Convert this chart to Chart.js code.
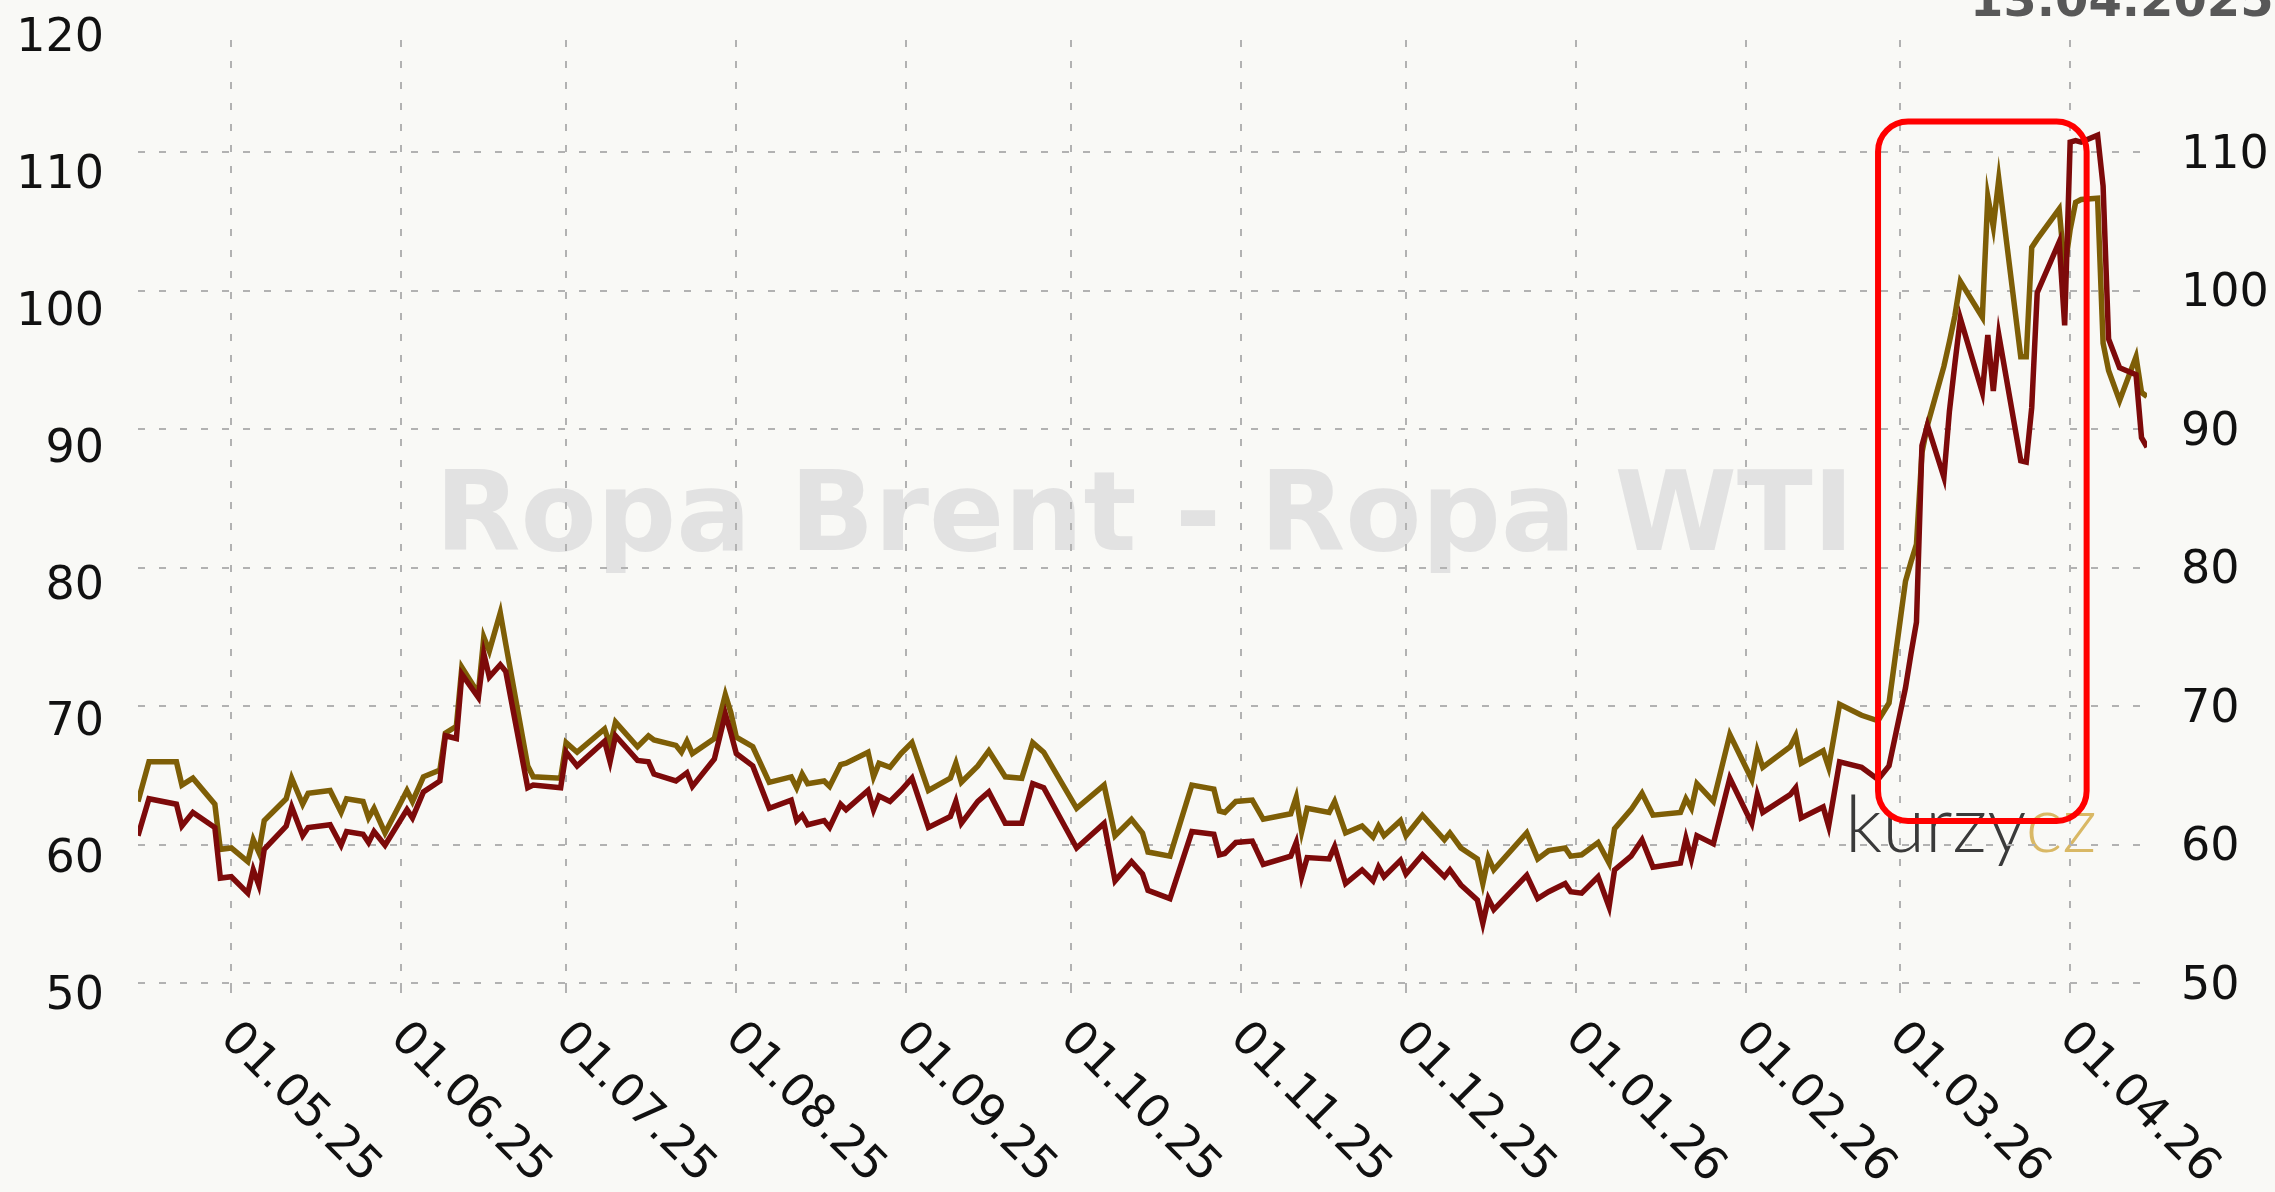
<!DOCTYPE html>
<html>
<head>
<meta charset="utf-8">
<title>Ropa Brent - Ropa WTI</title>
<script src="https://cdn.jsdelivr.net/npm/chart.js@4.4.1/dist/chart.umd.min.js"></script>
<style>
  html, body { margin: 0; padding: 0; background: #f9f9f6; }
  #wrap { position: relative; width: 2275px; height: 1192px; overflow: hidden; background: #f9f9f6; }
  #chart { position: absolute; left: 0; top: 0; }
  .txt { position: absolute; white-space: nowrap; margin: 0; }
  #watermark { left: 435px; top: 456px; font: bold 111px "DejaVu Sans", sans-serif; line-height: 111px; color: #e2e2e2; }
  #logo { left: 1845px; top: 783px; font: 300 78px Lato, sans-serif; line-height: 78px; color: #3a3a3a; letter-spacing: 0px; }
  #logo span { color: #d9b865; }
  #stamp { left: 1970px; top: -25px; font: bold 48px "DejaVu Sans", sans-serif; line-height: 48px; color: #585858; }
</style>
</head>
<body>
<div id="wrap">
  <div class="txt" id="watermark">Ropa Brent - Ropa WTI</div>
  <div class="txt" id="logo">kurzy<span>cz</span></div>
  <canvas id="chart" width="2275" height="1192"></canvas>
  <div class="txt" id="stamp">13.04.2025</div>
</div>
<script>
// data (USD / barel)
const dates = [
  "2025-04-14","2025-04-16","2025-04-21","2025-04-22","2025-04-24","2025-04-28","2025-04-29","2025-05-01","2025-05-04","2025-05-05",
  "2025-05-06","2025-05-07","2025-05-11","2025-05-12","2025-05-14","2025-05-15","2025-05-19","2025-05-21","2025-05-22","2025-05-25",
  "2025-05-26","2025-05-27","2025-05-29","2025-06-02","2025-06-03","2025-06-05","2025-06-08","2025-06-09","2025-06-11","2025-06-12",
  "2025-06-15","2025-06-16","2025-06-17","2025-06-19","2025-06-20","2025-06-24","2025-06-25","2025-06-30","2025-07-01","2025-07-03",
  "2025-07-08","2025-07-09","2025-07-10","2025-07-14","2025-07-16","2025-07-17","2025-07-21","2025-07-22","2025-07-23","2025-07-24",
  "2025-07-28","2025-07-30","2025-07-31","2025-08-01","2025-08-04","2025-08-07","2025-08-11","2025-08-12","2025-08-13","2025-08-14",
  "2025-08-17","2025-08-18","2025-08-20","2025-08-21","2025-08-25","2025-08-26","2025-08-27","2025-08-29","2025-08-31","2025-09-02",
  "2025-09-05","2025-09-09","2025-09-10","2025-09-11","2025-09-14","2025-09-16","2025-09-19","2025-09-22","2025-09-24","2025-09-26",
  "2025-10-02","2025-10-07","2025-10-09","2025-10-12","2025-10-14","2025-10-15","2025-10-19","2025-10-23","2025-10-27","2025-10-28",
  "2025-10-29","2025-10-31","2025-11-03","2025-11-05","2025-11-10","2025-11-11","2025-11-12","2025-11-13","2025-11-17","2025-11-18",
  "2025-11-20","2025-11-23","2025-11-25","2025-11-26","2025-11-27","2025-11-30","2025-12-01","2025-12-04","2025-12-08","2025-12-09",
  "2025-12-11","2025-12-14","2025-12-15","2025-12-16","2025-12-17","2025-12-23","2025-12-25","2025-12-27","2025-12-30","2025-12-31",
  "2026-01-02","2026-01-05","2026-01-07","2026-01-08","2026-01-11","2026-01-13","2026-01-15","2026-01-20","2026-01-21","2026-01-22",
  "2026-01-23","2026-01-26","2026-01-29","2026-02-02","2026-02-03","2026-02-04","2026-02-09","2026-02-10","2026-02-11","2026-02-15",
  "2026-02-16","2026-02-18","2026-02-22","2026-02-25","2026-02-27","2026-03-02","2026-03-03","2026-03-04","2026-03-05","2026-03-06",
  "2026-03-09","2026-03-10","2026-03-11","2026-03-12","2026-03-16","2026-03-17","2026-03-18","2026-03-19","2026-03-23","2026-03-24",
  "2026-03-25","2026-03-26","2026-03-30","2026-03-31","2026-04-01","2026-04-02","2026-04-03","2026-04-06","2026-04-07","2026-04-08",
  "2026-04-10","2026-04-13","2026-04-14","2026-04-15"
];
const brent = [
  64.0,66.9,66.9,65.2,65.7,63.8,60.5,60.6,59.6,61.2,
  60.3,62.6,64.2,65.7,63.8,64.6,64.8,63.2,64.2,64.0,
  62.8,63.5,61.7,64.8,64.0,65.8,66.3,69.0,69.5,73.8,
  71.9,76.0,75.0,77.8,75.5,66.6,65.8,65.7,68.3,67.6,
  69.3,68.1,69.8,68.0,68.8,68.5,68.1,67.6,68.4,67.5,
  68.6,71.8,70.5,68.7,68.0,65.4,65.8,65.0,66.0,65.3,
  65.5,65.1,66.7,66.8,67.6,65.8,66.8,66.5,67.5,68.3,
  64.8,65.7,66.8,65.4,66.6,67.7,65.8,65.7,68.3,67.6,
  63.5,65.2,61.5,62.7,61.7,60.3,60.0,65.2,64.9,63.3,
  63.2,64.0,64.1,62.7,63.1,64.3,61.8,63.5,63.2,64.0,
  61.7,62.2,61.4,62.2,61.5,62.6,61.5,63.0,61.2,61.7,
  60.6,59.8,58.0,59.9,59.0,61.7,59.8,60.4,60.6,60.0,
  60.1,61.0,59.5,62.0,63.4,64.6,63.0,63.2,64.2,63.5,
  65.3,64.0,68.9,65.6,67.7,66.5,68.0,68.8,66.8,67.7,
  66.5,71.1,70.3,69.9,71.2,80.1,81.5,82.8,89.5,91.5,
  95.8,97.6,99.5,102.0,99.4,108.2,106.0,109.5,96.5,96.5,
  104.5,105.1,107.3,102.9,105.8,107.8,108.0,108.1,97.5,95.5,
  93.3,96.5,93.9,93.6
];
const wti = [
  61.5,64.2,63.8,62.2,63.2,62.1,58.4,58.5,57.3,59.0,
  57.9,60.5,62.2,63.6,61.5,62.1,62.3,60.8,61.8,61.6,
  61.0,61.8,60.8,63.4,62.8,64.7,65.5,68.8,68.6,73.3,
  71.6,74.8,73.1,74.0,73.5,65.0,65.2,65.0,67.6,66.6,
  68.4,66.9,68.8,67.0,66.9,66.0,65.5,65.8,66.1,65.1,
  67.1,70.4,69.0,67.5,66.6,63.5,64.1,62.6,63.0,62.3,
  62.6,62.1,63.8,63.4,64.8,63.4,64.4,64.0,64.8,65.7,
  62.1,62.9,64.0,62.4,64.0,64.7,62.4,62.4,65.3,65.0,
  60.6,62.4,58.2,59.6,58.7,57.5,56.9,61.8,61.6,60.1,
  60.2,61.0,61.1,59.4,60.0,61.0,58.5,59.9,59.8,60.7,
  58.0,59.0,58.2,59.2,58.5,59.7,58.7,60.1,58.5,59.0,
  57.9,56.8,55.1,56.9,56.1,58.6,56.9,57.4,58.0,57.4,
  57.3,58.5,56.3,59.0,60.0,61.2,59.2,59.5,61.3,59.8,
  61.5,60.9,65.7,62.4,64.5,63.2,64.5,65.0,62.8,63.6,
  62.2,66.9,66.5,65.6,66.6,72.3,74.8,77.1,90.0,91.5,
  87.7,92.5,96.0,99.3,93.9,98.1,94.0,98.1,88.9,88.8,
  92.8,101.2,104.9,98.8,112.2,112.3,112.2,112.7,109.0,97.8,
  95.7,95.2,90.6,89.9
];
const monthTicks = ["2025-05-01","2025-06-01","2025-07-01","2025-08-01","2025-09-01","2025-10-01",
                    "2025-11-01","2025-12-01","2026-01-01","2026-02-01","2026-03-01","2026-04-01"];
const leftTicks = [50, 60, 70, 80, 90, 100, 110, 120];
const rightTicks = [50, 60, 70, 80, 90, 100, 110];
// zvýrazněné období (červený rámeček)
const boxDates = ["2026-02-25", "2026-04-04"];
const boxValues = [61.7, 112.2];

const dayNum = s => Date.UTC(+s.slice(0, 4), +s.slice(5, 7) - 1, +s.slice(8, 10)) / 864e5;
const fmtDay = d => {
  const t = new Date(d * 864e5);
  const p = n => String(n).padStart(2, "0");
  return p(t.getUTCDate()) + "." + p(t.getUTCMonth() + 1) + "." + String(t.getUTCFullYear()).slice(2);
};
const toPoints = vals => vals.map((v, i) => ({ x: dayNum(dates[i]), y: v }));

const FONT = '"DejaVu Sans", Verdana, sans-serif';
Chart.defaults.font.family = FONT;
Chart.defaults.font.size = 46;
Chart.defaults.color = "#111";

const gridStyle = { color: "#b2b2b2", lineWidth: 2 };

// y osy bez extra okraje nahore/dole
const noPad = ax => { ax.paddingTop = 0; ax.paddingBottom = 0; };

// popisky osy x šikmo dolů doprava
const xLabels = {
  id: "xLabels",
  afterDraw(chart) {
    const sx = chart.scales.x;
    const ctx = chart.ctx;
    ctx.save();
    ctx.font = "46px " + FONT;
    ctx.fillStyle = "#111";
    ctx.textAlign = "left";
    ctx.textBaseline = "middle";
    sx.ticks.forEach(t => {
      const px = sx.getPixelForValue(t.value);
      ctx.save();
      ctx.translate(px - 4, sx.top + 48);
      ctx.rotate(Math.PI / 4);
      ctx.fillText(fmtDay(t.value), 0, 0);
      ctx.restore();
    });
    ctx.restore();
  }
};

const highlight = {
  id: "highlight",
  afterDatasetsDraw(chart) {
    const { x, y } = chart.scales;
    const l = x.getPixelForValue(dayNum(boxDates[0]));
    const r = x.getPixelForValue(dayNum(boxDates[1]));
    const t = y.getPixelForValue(boxValues[1]);
    const b = y.getPixelForValue(boxValues[0]);
    const ctx = chart.ctx;
    ctx.save();
    ctx.strokeStyle = "#ff0000";
    ctx.lineWidth = 6;
    ctx.beginPath();
    ctx.roundRect(l, t, r - l, b - t, 30);
    ctx.stroke();
    ctx.restore();
  }
};

new Chart(document.getElementById("chart"), {
  type: "line",
  data: {
    datasets: [
      { label: "Ropa WTI", data: toPoints(wti), borderColor: "#7d0a0a", borderWidth: 5.5, pointRadius: 0, tension: 0 },
      { label: "Ropa Brent", data: toPoints(brent), borderColor: "#7e5e06", borderWidth: 5.5, pointRadius: 0, tension: 0 }
    ]
  },
  options: {
    responsive: false,
    devicePixelRatio: 1,
    animation: false,
    layout: { padding: { top: 40, left: 0, right: 0, bottom: 0 } },
    plugins: { legend: { display: false }, tooltip: { enabled: false } },
    scales: {
      x: {
        type: "linear",
        min: dayNum(dates[0]),
        max: dayNum(dates[dates.length - 1]),
        afterBuildTicks: ax => { ax.ticks = monthTicks.map(s => ({ value: dayNum(s) })); },
        afterFit: ax => { ax.height = 209; ax.paddingLeft = 0; ax.paddingRight = 0; },
        ticks: { display: false },
        grid: { ...gridStyle, drawTicks: true, tickLength: 10 },
        border: { display: false, dash: [7, 14] }
      },
      yL: {
        position: "left",
        min: 50.73,
        max: 119.66,
        afterBuildTicks: ax => { ax.ticks = leftTicks.map(v => ({ value: v })); },
        afterFit: ax => { ax.width = 138; noPad(ax); },
        ticks: { padding: 34, labelOffset: 4 },
        grid: { display: false, drawTicks: false },
        border: { display: false }
      },
      y: {
        position: "right",
        min: 50,
        max: 118.09,
        afterBuildTicks: ax => { ax.ticks = rightTicks.map(v => ({ value: v })); },
        afterFit: ax => { ax.width = 128; noPad(ax); },
        ticks: { padding: 34, labelOffset: 4 },
        grid: { ...gridStyle, drawTicks: false },
        border: { display: false, dash: [7, 14] }
      }
    }
  },
  plugins: [highlight, xLabels]
});
</script>
</body>
</html>
